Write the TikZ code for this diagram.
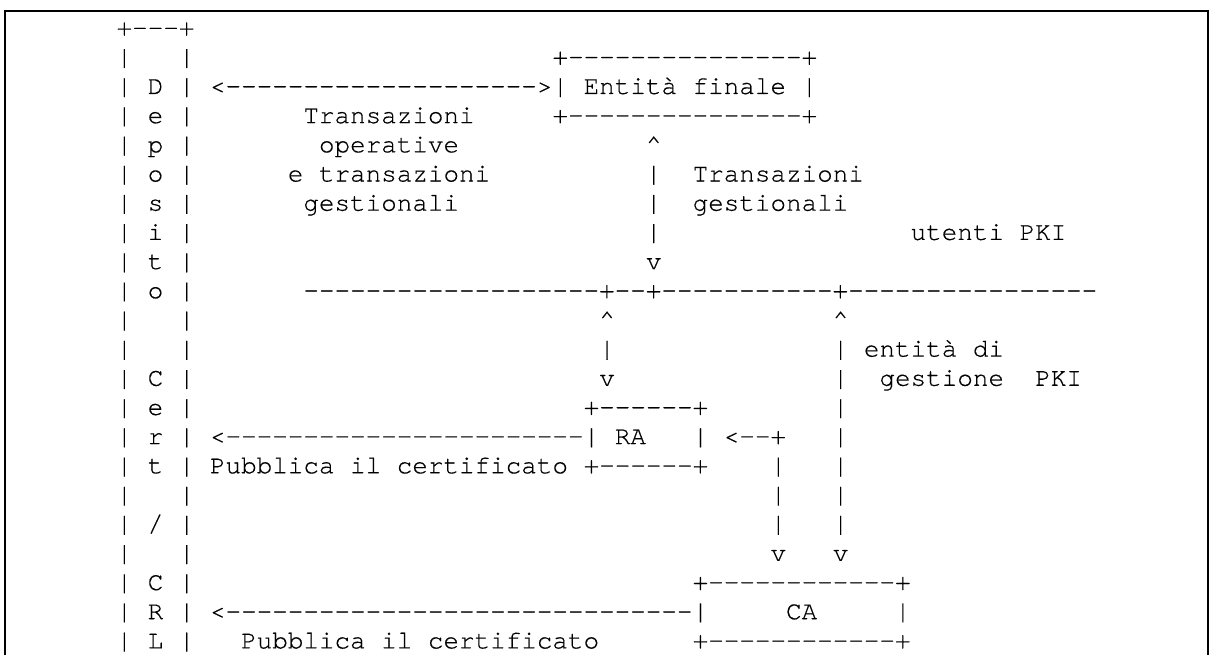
\documentclass[tikz,border=0pt]{standalone}
\usepackage{fontspec}
\newfontfamily\asciifont{TeX Gyre Cursor}[Ligatures={NoCommon},FakeBold=0.4]
\usepackage{tikz}
\tikzset{
  asc/.style       = {anchor=base west,inner sep=0pt,font=\asciifont\fontsize{12.97pt}{14.59pt}\selectfont},
  frameline/.style = {line width=1.2pt}
}

\begin{document}
\begin{tikzpicture}[x=7.785pt,y=-14.59pt]
  \useasboundingbox (-7.463,-1.220) rectangle (70.38,21.227);
  \draw[frameline] (-7.14,21.227) -- (-7.14,-0.843) -- (70.12,-0.843) -- (70.12,21.227);
  % deposito
  \node[asc] (deptop) at (0,0) {+---+};
  \foreach \r in {1,...,21} {
    \node[asc] (depl\r) at (0,\r) {|};
    \node[asc] (depr\r) at (4,\r) {|};
  }
  \foreach \ch [count=\r from 2] in {D,e,p,o,s,i,t,o,{},{},C,e,r,t,{},/,{},C,R,L} {
    \node[asc] (dep\r) at (2,\r) {\ch};
  }
  % entita finale
  \node[asc] (eftop) at (28,1) {+---------------+};
  \node[asc] (arrtop) at (6,2) {<-------------------->};
  \node[asc] (ef) at (28,2) {| Entità finale |};
  \node[asc] (efbot) at (28,3) {+---------------+};
  \node[asc] (op1) at (12,3) {Transazioni};
  \node[asc] (op2) at (13,4) {operative};
  \node[asc] (op3) at (11,5) {e transazioni};
  \node[asc] (op4) at (12,6) {gestionali};
  \node[asc] (up1) at (34,4) {\textasciicircum};
  \node[asc] (ge1) at (37,5) {Transazioni};
  \node[asc] (ge2) at (37,6) {gestionali};
  \node[asc] (dn1) at (34,8) {v};
  \node[asc] (utenti) at (51,7) {utenti PKI};
  \node[asc] (bus) at (12,9) {-------------------+--+-----------+----------------};
  % entita di gestione
  \node[asc] (up2) at (31,10) {\textasciicircum};
  \node[asc] (up3) at (46,10) {\textasciicircum};
  \node[asc] (dn2) at (31,12) {v};
  \node[asc] (gest1) at (48,11) {entità di};
  \node[asc] (gest2) at (49,12) {gestione};
  \node[asc] (gest3) at (59,12) {PKI};
  \foreach \c/\r in {34/5,34/6,34/7,31/11,46/11,46/12,46/13,46/14,46/15,46/16,46/17,42/15,42/16,42/17} {
    \node[asc] (bar\c-\r) at (\c,\r) {|};
  }
  % RA
  \node[asc] (ratop) at (30,13) {+------+};
  \node[asc] (arrra) at (6,14) {<-----------------------};
  \node[asc] (ral) at (30,14) {|};
  \node[asc] (ra) at (32,14) {RA};
  \node[asc] (rar) at (37,14) {|};
  \node[asc] (back) at (39,14) {<--+};
  \node[asc] (pubra) at (6,15) {Pubblica il certificato};
  \node[asc] (rabot) at (30,15) {+------+};
  \node[asc] (dn3) at (42,18) {v};
  \node[asc] (dn4) at (46,18) {v};
  % CA
  \node[asc] (catop) at (37,19) {+------------+};
  \node[asc] (arrca) at (6,20) {<------------------------------};
  \node[asc] (cal) at (37,20) {|};
  \node[asc] (ca) at (43,20) {CA};
  \node[asc] (car) at (50,20) {|};
  \node[asc] (pubca) at (8,21) {Pubblica il certificato};
  \node[asc] (cabot) at (37,21) {+------------+};
\end{tikzpicture}
\end{document}
